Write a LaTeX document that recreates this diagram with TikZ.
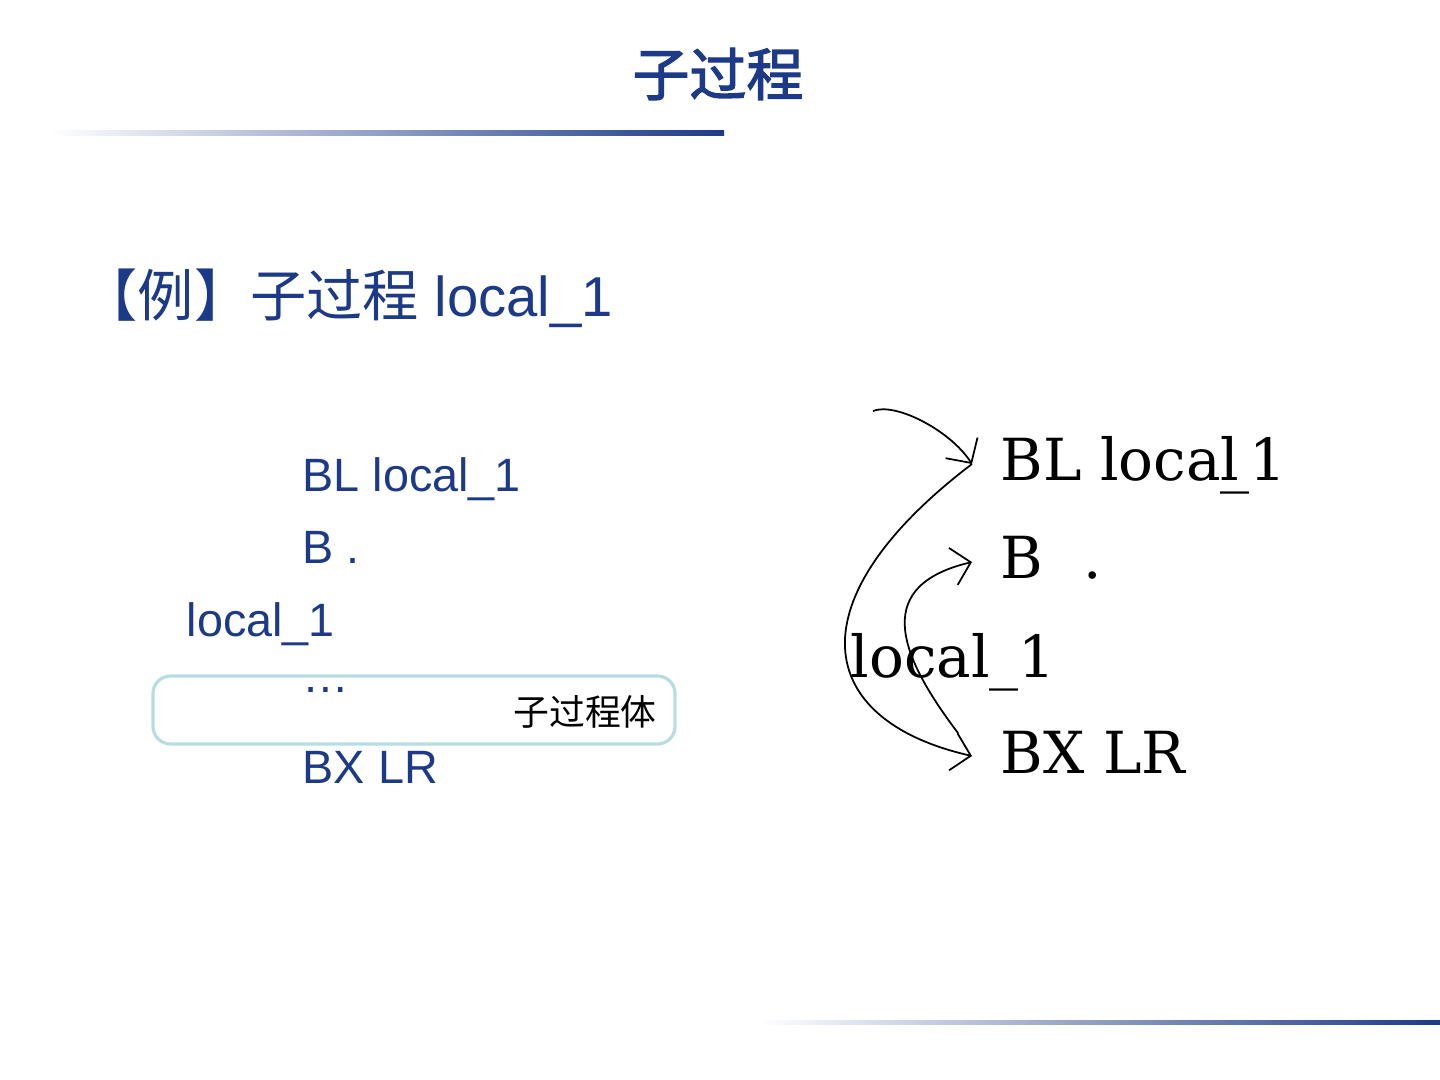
\documentclass[tikz,border=0pt]{standalone}
\usepackage{fontspec}
\setmainfont{Liberation Sans}
\newfontfamily\cjk{Noto Sans CJK SC}
\newfontfamily\cjkbold[FakeBold=2.2]{Noto Sans CJK SC}
\newfontfamily\asmserif{DejaVu Serif}
\definecolor{slideblue}{RGB}{28, 58, 135}
\definecolor{boxteal}{RGB}{183, 221, 226}
\usetikzlibrary{arrows.meta}

\begin{document}
\begin{tikzpicture}[
  code/.style={anchor=base west, inner sep=0pt, text=slideblue, font=\fontsize{13.3}{16}\selectfont},
  asm/.style={anchor=base west, inner ysep=0pt, inner xsep=0.28cm, text height=0.34cm, text depth=0pt, font=\asmserif\fontsize{16.5}{20}\selectfont},
  jump/.style={-{Straight Barb[length=1.8mm, width=3.8mm]}, line width=0.5pt}
]
  \useasboundingbox (0,0) rectangle (14.4,-10.8);
  \node[text=slideblue, font=\cjkbold\fontsize{16.2}{19}\selectfont] (title) at (7.18,-0.74) {子过程};
  \shade[left color=white, right color=slideblue] (0.5,-1.31) rectangle (7.24,-1.355);
  \shade[left color=white, right color=slideblue] (7.6,-10.2) rectangle (14.4,-10.245);
  \node[anchor=base west, inner sep=0pt, text=slideblue, font=\fontsize{16}{19}\selectfont] (example) at (0.81,-3.17) {{\cjk 【例】子过程} local\_1};

  \node[code] (lbl) at (3.02,-4.92) {BL local\_1};
  \node[code] (lb) at (3.02,-5.64) {B .};
  \node[code] (llocal) at (1.86,-6.37) {local\_1};
  \node[code] (ldots) at (3.02,-6.93) {…};
  \node[code] (lbx) at (3.02,-7.83) {BX LR};
  \node[draw=boxteal, line width=0.9pt, rounded corners=5pt, minimum width=5.22cm, minimum height=0.68cm] (body) at (4.14,-7.10) {};
  \node[font=\cjk\fontsize{10.2}{12}\selectfont, inner sep=0pt] (bodylabel) at (5.85,-7.12) {子过程体};

  \node[asm, inner xsep=0pt] (rlocal) at (8.50,-6.77) {local\_1};
  \node[asm] (rbl) at (9.72,-4.81) {BL local\kern-0.32em\_1};
  \node[asm] (rb) at (9.72,-5.79) {B\hspace{0.7em}.};
  \node[asm] (rbx) at (9.72,-7.73) {BX LR};

  \coordinate (caller) at (8.73,-4.11);
  \draw[jump] (caller) .. controls (8.95,-4.02) and (9.50,-4.30) .. (rbl.west);
  \draw[jump] (rbl.west) .. controls (7.93,-6.0) and (8.13,-7.2) .. (rbx.west);
  \draw[jump] ([shift={(-0.14,0.23)}]rbx.west) .. controls (8.95,-6.5) and (8.75,-5.85) .. (rb.west);
\end{tikzpicture}
\end{document}
